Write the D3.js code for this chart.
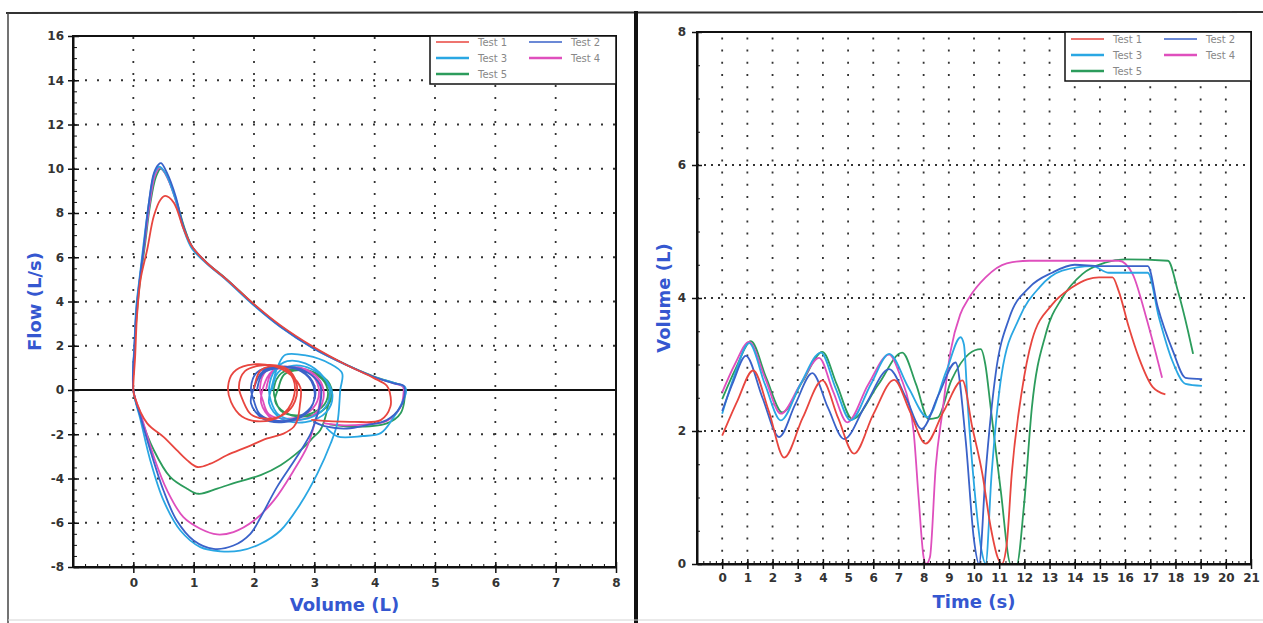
<!DOCTYPE html>
<html>
<head>
<meta charset="utf-8">
<script src="https://cdn.jsdelivr.net/npm/d3@7"></script>
<style>
body { margin: 0; background: #fff; }
svg { display: block; }
.axis text { font-family: "DejaVu Sans", Verdana, sans-serif; font-weight: bold; font-size: 12px; fill: #333; }
.axis path, .axis line { stroke: #111; }
.title { font-family: "DejaVu Sans", Verdana, sans-serif; font-weight: bold; font-size: 18px; fill: #3557d0; }
.legend text { font-family: "DejaVu Sans", sans-serif; font-size: 10px; fill: #888; }
</style>
</head>
<body>
<script>
var tests = ['Test 1', 'Test 2', 'Test 3', 'Test 4', 'Test 5'];
var colors = ['#e8463f', '#3a62c9', '#2aa7e3', '#df4fbd', '#2c9c5c'];

// flow-volume traces, [volume (L), flow (L/s)]
var flowVol1 = [[2.0,0.05],[2.1,0.85],[2.3,1.08],[2.55,0.95],[2.7,0.35],[2.68,-0.5],[2.5,-1.1],[2.2,-1.3],[1.95,-1.1],[1.82,-0.5],
  [1.75,0.15],[1.85,0.85],[2.1,1.1],[2.45,1.05],[2.65,0.5],[2.65,-0.4],[2.45,-1.15],[2.1,-1.42],[1.8,-1.2],[1.62,-0.55],
  [1.57,0.15],[1.66,0.8],[1.9,1.12],[2.3,1.1],[2.6,0.7],[2.77,0.1],[2.76,-0.7],[2.72,-1.35],
  [2.66,-1.66],[2.49,-1.97],[2.22,-2.19],[1.89,-2.57],[1.55,-2.95],[1.28,-3.33],[1.06,-3.48],[0.89,-3.17],[0.72,-2.72],[0.5,-2.12],[0.23,-1.51],[0.02,-0.3],[0,0],
  [0.03,1.5],[0.06,3.3],[0.12,5.0],[0.23,6.35],[0.34,7.86],[0.45,8.6],[0.53,8.77],[0.67,8.47],[0.83,7.3],[0.97,6.5],[1.22,5.74],[1.55,4.99],[2.0,3.88],[2.44,2.92],[2.99,1.94],[3.54,1.12],[3.98,0.55],[4.2,0.2],[4.25,-0.1],
  [4.26,-0.76],[4.1,-1.36],[3.65,-1.44],[3.3,-1.42],[2.95,-1.35]];
var flowVol2 = [[2.05,0.0],[2.15,0.75],[2.45,1.0],[2.8,0.85],[3.0,0.2],[2.98,-0.6],[2.75,-1.2],[2.4,-1.4],[2.1,-1.1],[2.0,-0.5],
  [1.95,0.1],[2.05,0.8],[2.35,1.05],[2.7,0.95],[2.95,0.4],[3.0,-0.4],[2.85,-1.1],[2.5,-1.45],[2.15,-1.3],[1.95,-0.6],
  [2.0,0.1],[2.15,0.85],[2.5,1.05],[2.85,0.85],[3.1,0.2],[3.1,-0.6],[3.02,-1.36],
  [2.94,-1.97],[2.71,-3.02],[2.38,-4.39],[2.11,-5.75],[1.94,-6.5],[1.66,-7.03],[1.33,-7.18],[1.0,-6.8],[0.72,-5.9],[0.5,-4.54],[0.28,-2.72],[0.12,-1.21],[0,0],
  [0.02,2.0],[0.05,3.5],[0.09,4.6],[0.17,6.4],[0.25,8.3],[0.34,9.8],[0.42,10.2],[0.46,10.25],[0.56,9.8],[0.7,8.77],[0.83,7.4],[0.97,6.5],[1.22,5.74],[1.55,4.99],[2.0,3.85],[2.44,2.87],[2.99,1.89],[3.54,1.13],[3.98,0.6],[4.32,0.3],[4.48,0.2],[4.5,-0.05],
  [4.43,-0.76],[4.2,-1.36],[3.87,-1.59],[3.54,-1.74],[3.21,-1.66],[3.0,-1.45]];
var flowVol3 = [[2.3,0.0],[2.4,0.8],[2.65,1.1],[2.95,0.95],[3.2,0.4],[3.25,-0.4],[3.05,-1.1],[2.7,-1.35],[2.4,-1.1],[2.28,-0.5],
  [2.25,0.1],[2.35,0.9],[2.55,1.3],[2.85,1.2],[3.15,0.6],[3.3,-0.2],[3.2,-1.0],[2.85,-1.45],[2.45,-1.3],[2.25,-0.6],
  [2.3,0.2],[2.4,1.1],[2.52,1.59],[2.88,1.55],[3.25,1.2],[3.46,0.76],[3.43,0],
  [3.38,-1.51],[3.27,-2.42],[3.05,-3.78],[2.77,-5.14],[2.44,-6.35],[2.11,-6.95],[1.77,-7.26],[1.44,-7.29],[1.11,-7.1],[0.78,-6.35],[0.5,-4.99],[0.28,-3.17],[0.12,-1.36],[0,0],
  [0.02,2.2],[0.05,3.8],[0.1,5.0],[0.17,6.6],[0.26,8.5],[0.35,9.8],[0.43,10.1],[0.48,10.0],[0.57,9.6],[0.7,8.6],[0.83,7.3],[0.97,6.4],[1.22,5.7],[1.55,4.95],[2.0,3.82],[2.44,2.85],[2.99,1.87],[3.54,1.12],[3.98,0.6],[4.32,0.32],[4.5,0.15],[4.52,-0.1],
  [4.45,-0.6],[4.3,-1.3],[4.1,-1.95],[3.8,-2.08],[3.38,-2.1],[3.2,-1.7]];
var flowVol4 = [[2.2,0.0],[2.3,0.8],[2.55,1.05],[2.85,0.9],[3.05,0.3],[3.05,-0.5],[2.85,-1.1],[2.55,-1.3],[2.25,-1.1],[2.15,-0.5],
  [2.1,0.1],[2.2,0.85],[2.5,1.05],[2.85,0.95],[3.1,0.4],[3.15,-0.4],[3.0,-1.1],[2.65,-1.4],[2.3,-1.3],[2.12,-0.6],
  [2.15,0.1],[2.3,0.85],[2.6,1.0],[2.9,0.8],[3.1,0.2],[3.08,-0.7],[2.99,-1.66],
  [2.88,-2.57],[2.66,-3.63],[2.33,-4.99],[2.0,-5.9],[1.66,-6.42],[1.39,-6.53],[1.11,-6.27],[0.83,-5.75],[0.56,-4.54],[0.34,-3.02],[0.12,-1.06],[0,0],
  [0.02,2.0],[0.05,3.6],[0.1,4.9],[0.18,6.5],[0.27,8.4],[0.36,9.7],[0.44,10.05],[0.49,9.95],[0.58,9.5],[0.7,8.6],[0.83,7.35],[0.97,6.45],[1.22,5.72],[1.55,4.97],[2.0,3.85],[2.44,2.86],[2.99,1.88],[3.54,1.12],[3.98,0.6],[4.32,0.3],[4.47,0.15],[4.48,-0.1],
  [4.42,-0.8],[4.2,-1.4],[3.85,-1.55],[3.5,-1.6],[3.15,-1.5]];
var flowVol5 = [[2.4,0.0],[2.5,0.7],[2.75,0.9],[3.0,0.75],[3.2,0.2],[3.2,-0.5],[3.0,-1.0],[2.7,-1.15],[2.45,-0.95],[2.35,-0.4],
  [2.33,0.1],[2.45,0.75],[2.7,0.95],[3.0,0.8],[3.25,0.3],[3.28,-0.4],[3.1,-1.0],[2.8,-1.2],[2.5,-1.0],[2.35,-0.5],
  [2.4,0.05],[2.5,0.7],[2.75,0.9],[3.05,0.7],[3.25,0.1],[3.22,-0.8],[3.1,-1.81],
  [2.99,-2.12],[2.77,-2.72],[2.44,-3.4],[2.11,-3.85],[1.72,-4.16],[1.39,-4.46],[1.08,-4.69],[0.89,-4.46],[0.61,-3.93],[0.34,-2.72],[0.12,-1.21],[0,0],
  [0.02,1.9],[0.06,3.5],[0.11,4.9],[0.19,6.5],[0.28,8.4],[0.37,9.6],[0.45,10.0],[0.5,9.9],[0.6,9.4],[0.72,8.5],[0.85,7.3],[0.98,6.45],[1.22,5.75],[1.55,5.0],[2.0,3.87],[2.44,2.88],[2.99,1.9],[3.54,1.13],[3.98,0.62],[4.32,0.32],[4.47,0.18],[4.5,-0.1],
  [4.43,-1.05],[4.2,-1.51],[3.65,-1.66],[3.25,-1.55]];

// volume-time traces, [time (s), volume (L)]
var volTime1 = [[0,1.93],[0.6,2.45],[1.23,2.91],[1.85,2.3],[2.46,1.6],[3.2,2.2],[3.98,2.76],[4.6,2.2],[5.24,1.66],[6.0,2.25],[6.83,2.77],[7.45,2.3],[8.08,1.81],[8.8,2.3],[9.54,2.76],
  [9.93,2.06],[10.33,1.36],[10.66,0.56],[10.93,0.11],[11.1,0.0],[11.3,0.3],[11.5,1.36],[11.9,2.6],[12.3,3.36],[13.1,3.9],[13.9,4.16],[14.5,4.28],[14.96,4.31],[15.5,4.31],[15.75,4.1],[16.15,3.56],[16.55,3.1],[17.1,2.66],[17.6,2.55]];
var volTime2 = [[0,2.3],[0.45,2.75],[0.94,3.13],[1.6,2.5],[2.26,1.91],[2.9,2.4],[3.58,2.87],[4.2,2.35],[4.84,1.88],[5.7,2.4],[6.63,2.93],[7.3,2.5],[7.92,2.03],[8.6,2.55],[9.27,3.03],
  [9.67,1.86],[10.0,0.36],[10.2,0.0],[10.46,1.36],[10.86,2.86],[11.4,3.7],[12.2,4.16],[13.1,4.38],[14.0,4.5],[15.0,4.48],[16.9,4.48],[17.3,3.86],[17.9,3.2],[18.4,2.8],[19.06,2.78]];
var volTime3 = [[0,2.26],[0.5,2.85],[1.07,3.32],[1.7,2.7],[2.33,2.16],[3.1,2.7],[3.92,3.18],[4.5,2.65],[5.1,2.16],[5.9,2.7],[6.63,3.16],[7.4,2.65],[8.15,2.21],[8.9,2.9],[9.47,3.41],
  [9.6,3.3],[9.75,2.4],[10.0,1.2],[10.3,0.2],[10.46,0.0],[10.7,1.36],[11.1,2.86],[11.8,3.7],[12.6,4.16],[13.5,4.41],[14.7,4.48],[15.36,4.38],[16.9,4.38],[17.35,3.7],[17.87,3.06],[18.4,2.71],[19.05,2.68]];
var volTime4 = [[0,2.58],[0.5,3.0],[1.07,3.34],[1.7,2.8],[2.33,2.26],[3.1,2.7],[3.85,3.1],[4.4,2.6],[4.97,2.13],[5.8,2.7],[6.63,3.15],[7.1,2.8],[7.42,2.41],
  [7.6,2.0],[7.8,1.0],[8.0,0.1],[8.1,0.0],[8.25,0.1],[8.48,1.46],[8.75,2.3],[9.07,3.2],[9.45,3.75],[9.8,4.0],[10.46,4.31],[11.3,4.52],[12.2,4.56],[15.75,4.56],[16.3,4.36],[16.8,3.76],[17.2,3.2],[17.47,2.8]];
var volTime5 = [[0,2.48],[0.55,2.95],[1.14,3.35],[1.75,2.8],[2.39,2.28],[3.2,2.75],[3.98,3.19],[4.55,2.7],[5.17,2.18],[6.2,2.7],[7.15,3.18],[7.7,2.7],[8.2,2.18],[8.55,2.2],[9.1,2.76],[9.8,3.16],[10.27,3.23],
  [10.45,3.0],[10.66,2.36],[11.06,1.11],[11.46,0.0],[11.7,0.0],[11.98,0.86],[12.3,2.36],[12.85,3.46],[13.5,4.0],[14.3,4.36],[15.2,4.53],[16.0,4.58],[17.7,4.56],[18.1,4.1],[18.5,3.5],[18.7,3.16]];

var flowTicks = d3.range(-8, 17, 2);
var volTicks = d3.range(0, 9);
var timeTicks = d3.range(0, 22);
var volTicksR = [0, 2, 4, 6, 8];

var flowVol = [flowVol1, flowVol2, flowVol3, flowVol4, flowVol5];
var volTime = [volTime1, volTime2, volTime3, volTime4, volTime5];

var W = 1263, H = 623;
var svg = d3.select('body').append('svg')
  .attr('width', W)
  .attr('height', H);

var xL = d3.scaleLinear().domain([-1, 8]).range([73, 616]);
var yL = d3.scaleLinear().domain([-8, 16]).range([567, 36]);
var xR = d3.scaleLinear().domain([-1, 21]).range([697, 1251]);
var yR = d3.scaleLinear().domain([0, 8]).range([564, 32]);

// outer frame of the two panels
svg.append('line').attr('x1', 6).attr('x2', W).attr('y1', 13).attr('y2', 12)
  .attr('stroke', '#333').attr('stroke-width', 2);
svg.append('line').attr('x1', 8).attr('x2', 8).attr('y1', 13).attr('y2', H)
  .attr('stroke', '#444').attr('stroke-width', 1.5);
svg.append('line').attr('x1', 636).attr('x2', 636).attr('y1', 11).attr('y2', H)
  .attr('stroke', '#111').attr('stroke-width', 4);
svg.append('line').attr('x1', 8).attr('x2', W).attr('y1', 620).attr('y2', 620)
  .attr('stroke', '#d4d4d4').attr('stroke-width', 1);

function grid(g, x, y, xs, ys, vDash, hDash) {
  g.append('g').selectAll('line')
    .data(xs)
    .join('line')
      .attr('x1', d => x(d)).attr('x2', d => x(d))
      .attr('y1', y.range()[0]).attr('y2', y.range()[1])
      .attr('stroke', '#333').attr('stroke-width', 1.8)
      .attr('stroke-dasharray', vDash);
  g.append('g').selectAll('line')
    .data(ys)
    .join('line')
      .attr('y1', d => y(d)).attr('y2', d => y(d))
      .attr('x1', x.range()[0]).attr('x2', x.range()[1])
      .attr('stroke', '#333').attr('stroke-width', 1.8)
      .attr('stroke-dasharray', hDash);
}

function legend(g, x0, y0, w, h, rows) {
  var lg = g.append('g').attr('class', 'legend');
  lg.append('rect')
    .attr('x', x0).attr('y', y0).attr('width', w).attr('height', h)
    .attr('fill', '#fff').attr('stroke', '#111').attr('stroke-width', 1.5);
  tests.forEach((t, i) => {
    var cx = x0 + (i % 2) * 93, cy = y0 + rows[Math.floor(i / 2)];
    lg.append('line')
      .attr('x1', cx + 6).attr('x2', cx + 39).attr('y1', cy).attr('y2', cy)
      .attr('stroke', colors[i]).attr('stroke-width', i < 2 ? 1.6 : 2.4);
    lg.append('text')
      .attr('x', cx + 48).attr('y', cy).attr('dy', '0.35em')
      .text(t);
  });
}

var line = (x, y, curve) => d3.line().x(d => x(d[0])).y(d => y(d[1])).curve(curve);

// ---- left: flow vs volume
var gl = svg.append('g');
grid(gl, xL, yL, d3.range(0, 8), flowTicks.filter(d => d > -8 && d < 16 && d !== 0), '2,10', '2,10');

gl.append('line')
  .attr('x1', xL.range()[0]).attr('x2', xL.range()[1])
  .attr('y1', yL(0)).attr('y2', yL(0))
  .attr('stroke', '#111').attr('stroke-width', 1.8);

gl.append('g')
  .selectAll('path')
  .data(flowVol.map((d, i) => ({pts: d, i: i})).reverse())
  .join('path')
    .attr('d', d => line(xL, yL, d3.curveCatmullRom.alpha(0.5))(d.pts))
    .attr('fill', 'none')
    .attr('stroke', d => colors[d.i])
    .attr('stroke-width', 1.8)
    .attr('stroke-linejoin', 'round');

gl.append('rect')
  .attr('x', xL(-1)).attr('y', yL(16))
  .attr('width', xL(8) - xL(-1)).attr('height', yL(-8) - yL(16))
  .attr('fill', 'none').attr('stroke', '#111').attr('stroke-width', 2);

gl.append('g').attr('class', 'axis').attr('transform', `translate(${xL(-1)},0)`)
  .call(d3.axisLeft(yL).tickValues(flowTicks).tickSize(5).tickSizeOuter(0).tickPadding(4).tickFormat(d => String(d)))
  .call(g => g.select('.domain').attr('stroke-width', 2))
  .call(g => g.selectAll('.tick line').attr('x2', 6).attr('x1', -5).attr('stroke-width', 1.5));
gl.append('g').attr('class', 'axis').attr('transform', `translate(${xL(-1)},0)`)
  .call(d3.axisRight(yL).tickValues(d3.range(-8, 16.01, 0.5)).tickSize(4).tickSizeOuter(0).tickFormat(''))
  .call(g => g.select('.domain').remove());
gl.append('g').attr('class', 'axis').attr('transform', `translate(0,${yL(-8)})`)
  .call(d3.axisBottom(xL).tickValues(volTicks).tickSize(6).tickSizeOuter(0).tickPadding(5).tickFormat(d => String(d)))
  .call(g => g.select('.domain').attr('stroke-width', 2))
  .call(g => g.selectAll('.tick line').attr('y1', -5).attr('stroke-width', 1.5));
gl.append('g').attr('class', 'axis').attr('transform', `translate(0,${yL(-8)})`)
  .call(d3.axisTop(xL).tickValues(d3.range(-1, 8.01, 0.2)).tickSize(3).tickSizeOuter(0).tickFormat(''))
  .call(g => g.select('.domain').remove());

gl.append('text').attr('class', 'title')
  .attr('x', (xL.range()[0] + xL.range()[1]) / 2).attr('y', 611)
  .attr('text-anchor', 'middle').text('Volume (L)');
gl.append('text').attr('class', 'title')
  .attr('transform', `translate(41,${yL(4)}) rotate(-90)`)
  .attr('text-anchor', 'middle').text('Flow (L/s)');

legend(gl, 430, 36, 186, 48, [6, 22, 38]);

// ---- right: volume vs time
var gr = svg.append('g');
grid(gr, xR, yR, d3.range(0, 21), [2, 4, 6], '2,10.2', '2,5');

gr.append('g')
  .selectAll('path')
  .data(volTime.map((d, i) => ({pts: d, i: i})).reverse())
  .join('path')
    .attr('d', d => line(xR, yR, d3.curveMonotoneX)(d.pts))
    .attr('fill', 'none')
    .attr('stroke', d => colors[d.i])
    .attr('stroke-width', 1.8)
    .attr('stroke-linejoin', 'round');

gr.append('rect')
  .attr('x', xR(-1)).attr('y', yR(8))
  .attr('width', xR(21) - xR(-1)).attr('height', yR(0) - yR(8))
  .attr('fill', 'none').attr('stroke', '#111').attr('stroke-width', 2);

gr.append('g').attr('class', 'axis').attr('transform', `translate(${xR(-1)},0)`)
  .call(d3.axisLeft(yR).tickValues(volTicksR).tickSize(5).tickSizeOuter(0).tickPadding(6).tickFormat(d => String(d)))
  .call(g => g.select('.domain').attr('stroke-width', 2))
  .call(g => g.selectAll('.tick line').attr('x2', 5).attr('x1', -5).attr('stroke-width', 1.5));
gr.append('g').attr('class', 'axis').attr('transform', `translate(${xR(-1)},0)`)
  .call(d3.axisRight(yR).tickValues(d3.range(0, 8.01, 0.5)).tickSize(3).tickSizeOuter(0).tickFormat(''))
  .call(g => g.select('.domain').remove());
gr.append('g').attr('class', 'axis').attr('transform', `translate(0,${yR(0)})`)
  .call(d3.axisBottom(xR).tickValues(timeTicks).tickSize(5).tickSizeOuter(0).tickPadding(4).tickFormat(d => String(d)))
  .call(g => g.select('.domain').attr('stroke-width', 2))
  .call(g => g.selectAll('.tick line').attr('y1', -5).attr('stroke-width', 1.5));
gr.append('g').attr('class', 'axis').attr('transform', `translate(0,${yR(0)})`)
  .call(d3.axisTop(xR).tickValues(d3.range(-1, 21.01, 0.25)).tickSize(3).tickSizeOuter(0).tickFormat(''))
  .call(g => g.select('.domain').remove());

gr.append('text').attr('class', 'title')
  .attr('x', (xR.range()[0] + xR.range()[1]) / 2).attr('y', 608)
  .attr('text-anchor', 'middle').text('Time (s)');
gr.append('text').attr('class', 'title')
  .attr('transform', `translate(670,${yR(4)}) rotate(-90)`)
  .attr('text-anchor', 'middle').text('Volume (L)');

legend(gr, 1065, 32, 186, 49, [7, 23, 39]);
</script>
</body>
</html>
